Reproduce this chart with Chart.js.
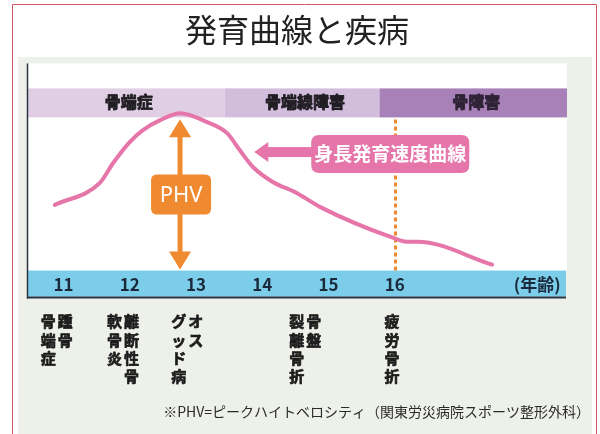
<!DOCTYPE html>
<html>
<head>
<meta charset="utf-8">
<script src="https://cdn.jsdelivr.net/npm/chart.js@4.4.0/dist/chart.umd.min.js"></script>
<style>
  html, body { margin: 0; padding: 0; background: #fff; }
  #wrap { width: 600px; height: 434px; }
</style>
</head>
<body>
<div id="wrap"><canvas id="chart"></canvas></div>
<script>
// growth velocity curve (age, arbitrary velocity units)
var ages     = [10.87, 11.55, 11.75, 12.00, 12.20, 12.46, 12.76, 13.17, 13.47, 13.66, 13.86, 14.16, 14.52, 14.87, 15.97, 16.18, 16.34, 17.47];
var velocity = [3.30, 4.40, 5.40, 6.45, 7.05, 7.55, 7.90, 7.45, 6.90, 6.05, 5.20, 4.45, 3.90, 3.20, 1.65, 1.45, 1.45, 0.30];

var tickAges   = [11, 12, 13, 14, 15, 16, 18.15];
var tickLabels = ['11', '12', '13', '14', '15', '16', '(年齢)'];

var bandLabels = ['骨端症', '骨端線障害', '骨障害'];
var bandFrom   = [10.45, 13.43, 15.77];
var bandTo     = [13.43, 15.77, 18.6];
var bandColors = ['#e0cfe4', '#d3bddc', '#a881b9'];

// disease names, vertical text, right column first
var diseaseAges    = [10.9, 11.9, 12.87, 14.65, 15.96];
var diseaseColumns = [['踵骨', '骨端症'], ['離断性骨', '軟骨炎'], ['オス', 'グッド病'], ['骨盤', '裂離骨折'], ['疲労骨折']];

var phvAge = 12.76;
var boundaryAge = 16;
var calloutAge = 13.88, calloutValue = 5.95;
var calloutText = '身長発育速度曲線';
var footnote = '※PHV=ピークハイトベロシティ（関東労災病院スポーツ整形外科）';

var JP = '"Noto Sans CJK JP", "Noto Sans", sans-serif';
var ORANGE = '#ef8a30';
var PINK = '#e675aa';

function roundRect(ctx, x, y, w, h, r) {
    ctx.beginPath();
    ctx.moveTo(x + r, y);
    ctx.lineTo(x + w - r, y);
    ctx.quadraticCurveTo(x + w, y, x + w, y + r);
    ctx.lineTo(x + w, y + h - r);
    ctx.quadraticCurveTo(x + w, y + h, x + w - r, y + h);
    ctx.lineTo(x + r, y + h);
    ctx.quadraticCurveTo(x, y + h, x, y + h - r);
    ctx.lineTo(x, y + r);
    ctx.quadraticCurveTo(x, y, x + r, y);
    ctx.closePath();
}

// heavier text: fill plus a thin stroke of the same colour
function heavyText(ctx, text, x, y, w) {
    ctx.strokeStyle = ctx.fillStyle;
    ctx.lineWidth = w;
    ctx.lineJoin = 'round';
    ctx.strokeText(text, x, y);
    ctx.fillText(text, x, y);
}

var backdrop = {
    id: 'backdrop',
    beforeDraw: function(chart) {
        var ctx = chart.ctx, a = chart.chartArea, xs = chart.scales.x;
        ctx.save();
        ctx.fillStyle = '#fff';
        ctx.fillRect(0, 0, chart.width, chart.height);
        // red frame
        ctx.strokeStyle = '#d4545c';
        ctx.lineWidth = 1;
        ctx.beginPath();
        ctx.moveTo(12.5, 434); ctx.lineTo(12.5, 4.5); ctx.lineTo(596.5, 4.5); ctx.lineTo(596.5, 434);
        ctx.stroke();
        // grey panel
        ctx.fillStyle = '#eef1ea';
        ctx.fillRect(18, 57, 574, 377);
        // white plot area
        ctx.fillStyle = '#fff';
        ctx.fillRect(a.left, a.top, a.right - a.left, a.bottom - a.top);
        // stage bands
        ctx.font = 'bold 16px ' + JP;
        ctx.textAlign = 'center';
        ctx.textBaseline = 'middle';
        for (var i = 0; i < bandLabels.length; i++) {
            var x0 = xs.getPixelForValue(bandFrom[i]), x1 = xs.getPixelForValue(bandTo[i]);
            ctx.fillStyle = bandColors[i];
            ctx.fillRect(x0, a.top + 25, x1 - x0, 29);
            ctx.fillStyle = i == 2 ? '#2e2236' : '#1f1c22';
            heavyText(ctx, bandLabels[i], (x0 + x1) / 2 + 3, a.top + 39, 0.8);
        }
        // blue age band
        ctx.fillStyle = '#7ccdea';
        ctx.fillRect(a.left, xs.top, a.right - a.left - 1, 26);
        ctx.restore();
    },
    beforeDatasetsDraw: function(chart) {
        var ctx = chart.ctx, a = chart.chartArea, xs = chart.scales.x;
        var x = Math.round(xs.getPixelForValue(boundaryAge)) + 0.5;
        ctx.save();
        ctx.strokeStyle = ORANGE;
        ctx.lineWidth = 3;
        ctx.setLineDash([4, 3]);
        ctx.beginPath();
        ctx.moveTo(x, a.top + 56);
        ctx.lineTo(x, a.bottom);
        ctx.stroke();
        ctx.restore();
    },
    afterDatasetsDraw: function(chart) {
        var ctx = chart.ctx, a = chart.chartArea, xs = chart.scales.x, ys = chart.scales.y;
        ctx.save();
        // PHV double arrow
        var px = xs.getPixelForValue(phvAge);
        var top = ys.getPixelForValue(Math.max.apply(null, velocity)) + 6;
        var bot = a.bottom - 1;
        ctx.fillStyle = ORANGE;
        ctx.fillRect(px - 2.5, top + 16, 5, bot - top - 32);
        ctx.beginPath();
        ctx.moveTo(px, top); ctx.lineTo(px + 11, top + 18); ctx.lineTo(px - 11, top + 18); ctx.closePath();
        ctx.fill();
        ctx.beginPath();
        ctx.moveTo(px, bot); ctx.lineTo(px + 11, bot - 18); ctx.lineTo(px - 11, bot - 18); ctx.closePath();
        ctx.fill();
        var mid = (top + bot) / 2;
        roundRect(ctx, px - 29, mid - 20, 60, 40, 6);
        ctx.fill();
        ctx.fillStyle = '#fff';
        ctx.font = '22px "Noto Sans", sans-serif';
        ctx.textAlign = 'center';
        ctx.textBaseline = 'middle';
        ctx.fillText('PHV', px + 1, mid + 1);

        // callout pointing at the curve
        var tx = xs.getPixelForValue(calloutAge), ty = ys.getPixelForValue(calloutValue);
        ctx.fillStyle = PINK;
        ctx.beginPath();
        ctx.moveTo(tx, ty); ctx.lineTo(tx + 14, ty - 10); ctx.lineTo(tx + 14, ty + 10); ctx.closePath();
        ctx.fill();
        ctx.fillRect(tx + 12, ty - 5, 50, 10);
        roundRect(ctx, tx + 57, ty - 17, 158, 38, 8);
        ctx.fill();
        ctx.fillStyle = '#fff';
        ctx.font = 'bold 19px ' + JP;
        ctx.fillText(calloutText, tx + 136, ty + 2);
        ctx.restore();
    },
    afterDraw: function(chart) {
        var ctx = chart.ctx, a = chart.chartArea, xs = chart.scales.x;
        ctx.save();
        // frame lines
        ctx.strokeStyle = '#2b3440';
        ctx.lineWidth = 1.5;
        ctx.beginPath();
        ctx.moveTo(a.left + 0.5, a.top);
        ctx.lineTo(a.left + 0.5, xs.top + 28);
        ctx.stroke();
        ctx.lineWidth = 2;
        ctx.beginPath();
        ctx.moveTo(a.left, xs.top + 27);
        ctx.lineTo(a.right - 1, xs.top + 27);
        ctx.stroke();
        // disease names
        ctx.fillStyle = '#1c1c1c';
        ctx.font = 'bold 15px ' + JP;
        ctx.textAlign = 'center';
        ctx.textBaseline = 'middle';
        for (var i = 0; i < diseaseColumns.length; i++) {
            var cx = xs.getPixelForValue(diseaseAges[i]);
            var cols = diseaseColumns[i];
            for (var c = 0; c < cols.length; c++) {
                var colX = cols.length == 1 ? cx : cx + 8.5 - c * 17;
                var chars = Array.from(cols[c]);
                for (var k = 0; k < chars.length; k++) {
                    heavyText(ctx, chars[k], colX, xs.top + 51 + k * 18.3, 0.7);
                }
            }
        }
        // footnote
        ctx.fillStyle = '#2a2a2a';
        ctx.font = '14px ' + JP;
        ctx.textAlign = 'right';
        ctx.fillText(footnote, 590, 412);
        ctx.restore();
    }
};

var config = {
    type: 'line',
    data: {
        datasets: [{
            label: '身長発育速度曲線',
            data: ages.map(function(age, i) { return {x: age, y: velocity[i]}; }),
            borderColor: PINK,
            borderWidth: 4,
            fill: false,
            cubicInterpolationMode: 'monotone',
            pointRadius: 0,
            borderCapStyle: 'round',
            borderJoinStyle: 'round'
        }]
    },
    options: {
        responsive: true,
        maintainAspectRatio: false,
        animation: false,
        layout: {
            padding: {left: 27, right: 33, top: 7, bottom: 135}
        },
        plugins: {
            legend: {display: false},
            tooltip: {enabled: false},
            title: {
                display: true,
                text: '発育曲線と疾病',
                color: '#222',
                font: {family: JP, size: 32, weight: 'normal'},
                padding: {top: 4, bottom: 14}
            }
        },
        scales: {
            x: {
                type: 'linear',
                min: 10.45,
                max: 18.6,
                grid: {display: false, drawTicks: false},
                border: {display: false},
                afterBuildTicks: function(axis) {
                    axis.ticks = tickAges.map(function(v) { return {value: v}; });
                },
                ticks: {
                    autoSkip: false,
                    maxRotation: 0,
                    padding: 4,
                    color: '#1b2a3b',
                    font: {family: JP, size: 17, weight: 'bold'},
                    callback: function(value, index) { return tickLabels[index]; }
                }
            },
            y: {
                display: false,
                min: 0,
                max: 10.4
            }
        }
    },
    plugins: [backdrop]
};

(function() {
    new Chart(document.getElementById('chart'), config);
})();
</script>
</body>
</html>
